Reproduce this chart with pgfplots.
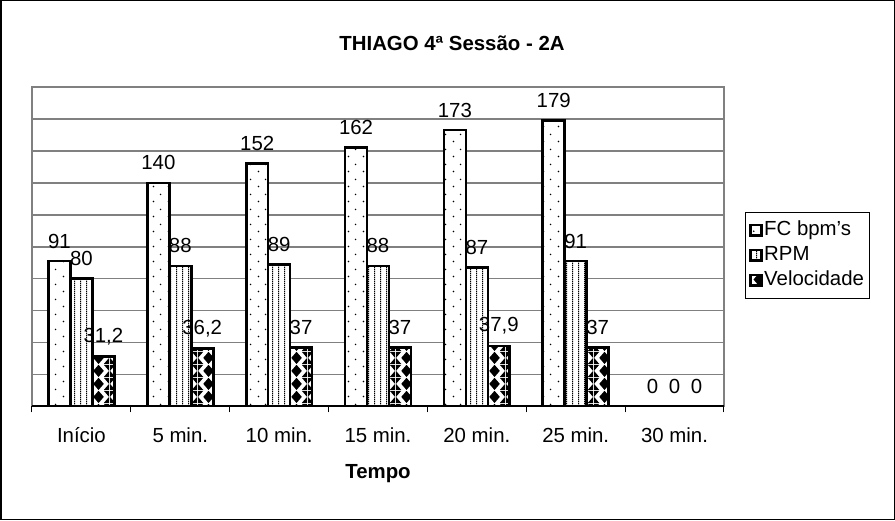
\documentclass[border=0pt]{standalone}
\usepackage{pgfplots}
\pgfplotsset{compat=1.18}
\usepackage{fontspec}
\setmainfont{Liberation Sans}
\usetikzlibrary{patterns}

\pgfdeclarepatternformonly{fcdots}{\pgfqpoint{0pt}{0pt}}{\pgfqpoint{7.5pt}{7.5pt}}{\pgfqpoint{7.5pt}{7.5pt}}{
  \pgfpathcircle{\pgfqpoint{1.875pt}{1.875pt}}{0.45pt}
  \pgfpathcircle{\pgfqpoint{5.625pt}{5.625pt}}{0.45pt}
  \pgfusepath{fill}}

\pgfdeclarepatternformonly{rpmlines}{\pgfqpoint{0pt}{0pt}}{\pgfqpoint{2.75pt}{1pt}}{\pgfqpoint{2.75pt}{1pt}}{
  \pgfpathrectangle{\pgfqpoint{1.1pt}{0pt}}{\pgfqpoint{0.6pt}{1pt}}
  \pgfusepath{fill}}

\pgfdeclarepatternformonly{veldiam}{\pgfqpoint{0pt}{0pt}}{\pgfqpoint{11pt}{6.5pt}}{\pgfqpoint{11pt}{6.5pt}}{
  \pgfpathmoveto{\pgfqpoint{5.5pt}{0pt}}
  \pgfpathlineto{\pgfqpoint{8.25pt}{3.25pt}}
  \pgfpathlineto{\pgfqpoint{5.5pt}{6.5pt}}
  \pgfpathlineto{\pgfqpoint{2.75pt}{3.25pt}}
  \pgfpathclose
  \pgfpathmoveto{\pgfqpoint{0pt}{3.25pt}}
  \pgfpathlineto{\pgfqpoint{2.75pt}{0pt}}
  \pgfpathlineto{\pgfqpoint{0pt}{0pt}}
  \pgfpathclose
  \pgfpathmoveto{\pgfqpoint{0pt}{3.25pt}}
  \pgfpathlineto{\pgfqpoint{2.75pt}{6.5pt}}
  \pgfpathlineto{\pgfqpoint{0pt}{6.5pt}}
  \pgfpathclose
  \pgfpathmoveto{\pgfqpoint{11pt}{3.25pt}}
  \pgfpathlineto{\pgfqpoint{8.25pt}{0pt}}
  \pgfpathlineto{\pgfqpoint{11pt}{0pt}}
  \pgfpathclose
  \pgfpathmoveto{\pgfqpoint{11pt}{3.25pt}}
  \pgfpathlineto{\pgfqpoint{8.25pt}{6.5pt}}
  \pgfpathlineto{\pgfqpoint{11pt}{6.5pt}}
  \pgfpathclose
  \pgfusepath{fill}}

\pgfplotstableread{
x fc fcl rpm rpml vel vell
0 91  91  80 80 31.2 {31,2}
1 140 140 88 88 36.2 {36,2}
2 152 152 89 89 37   37
3 162 162 88 88 37   37
4 173 173 87 87 37.9 {37,9}
5 179 179 91 91 37   37
6 0   0   0  0  0    0
}\datatable

\begin{document}
\fontsize{10.2}{12.2}\selectfont
\begin{tikzpicture}
\useasboundingbox (0,0) rectangle (447.5pt,260pt);
\fill[white] (0,0) rectangle (447.5pt,260pt);
\draw[black, line width=0.75pt] (0.375pt,0.375pt) rectangle (447.125pt,259.625pt);
\node[font=\fontsize{10.2}{12.2}\selectfont\bfseries] at (226pt,238.5pt) {THIAGO 4ª Sessão - 2A};

\begin{axis}[
  at={(16pt,56.75pt)}, anchor=south west,
  width=346pt, height=159.75pt, scale only axis,
  xmin=-0.5, xmax=6.5, ymin=0, ymax=200,
  ybar, bar width=0.222,
  xtick={0,1,2,3,4,5,6},
  xticklabels={Início,5 min.,10 min.,15 min.,20 min.,25 min.,30 min.},
  major x tick style={draw=none},
  xtick pos=bottom, ytick pos=left,
  xticklabel style={anchor=center, yshift=-10.25pt},
  extra x ticks={-0.5,0.5,1.5,2.5,3.5,4.5,5.5,6.5},
  extra x tick labels={},
  extra x tick style={tick align=outside, major tick length=3pt, major x tick style={draw=black, line width=0.5pt}},
  ytick={0,20,...,200},
  yticklabels={},
  major y tick style={draw=none},
  ymajorgrids,
  major grid style={draw=black!50, line width=0.75pt},
  axis line style={draw=black!50, line width=0.75pt},
  xlabel={Tempo},
  xlabel style={font=\fontsize{10.2}{12.2}\selectfont\bfseries, at={(axis description cs:0.5,0)}, anchor=center, yshift=-33.8pt},
  every node near coord/.append style={anchor=center, yshift=10pt, font=\fontsize{10.2}{12.2}\selectfont},
  legend style={at={(1,0.5)}, anchor=west, xshift=10.5pt, yshift=-4.25pt,
    draw=black, line width=0.5pt, inner xsep=2pt, inner ysep=3.25pt, row sep=1pt,
    cells={anchor=west},
    nodes={inner sep=0.75pt, text height=7.5pt, text depth=2.5pt, font=\fontsize{10.2}{12.2}\selectfont}},
  legend image code/.code={\draw[#1, line width=1.4pt] (0.3pt,-2.6pt) rectangle (5.5pt,2.6pt);},
]
\addplot[draw=black, line width=1.3pt, fill=white, postaction={pattern=fcdots}, bar shift=-0.222,
  nodes near coords, point meta=explicit symbolic]
  table[x=x, y=fc, meta=fcl] {\datatable};
\addplot[draw=black, line width=1.3pt, fill=white, postaction={pattern=rpmlines}, bar shift=0,
  nodes near coords, point meta=explicit symbolic]
  table[x=x, y=rpm, meta=rpml] {\datatable};
\addplot[draw=black, line width=1.3pt, fill=white, postaction={pattern=veldiam}, bar shift=0.222,
  nodes near coords, point meta=explicit symbolic]
  table[x=x, y=vel, meta=vell] {\datatable};
\legend{FC bpm's, RPM, Velocidade\hspace{4pt}}
% redraw outlines so shared edges keep full width
\addplot[forget plot, draw=black, line width=1.3pt, fill=none, bar shift=-0.222] table[x=x, y=fc] {\datatable};
\addplot[forget plot, draw=black, line width=1.3pt, fill=none, bar shift=0] table[x=x, y=rpm] {\datatable};
\addplot[forget plot, draw=black, line width=1.3pt, fill=none, bar shift=0.222] table[x=x, y=vel] {\datatable};
\draw[black, line width=1pt] (rel axis cs:0,0) -- (rel axis cs:1,0);
\end{axis}
\end{tikzpicture}
\end{document}
